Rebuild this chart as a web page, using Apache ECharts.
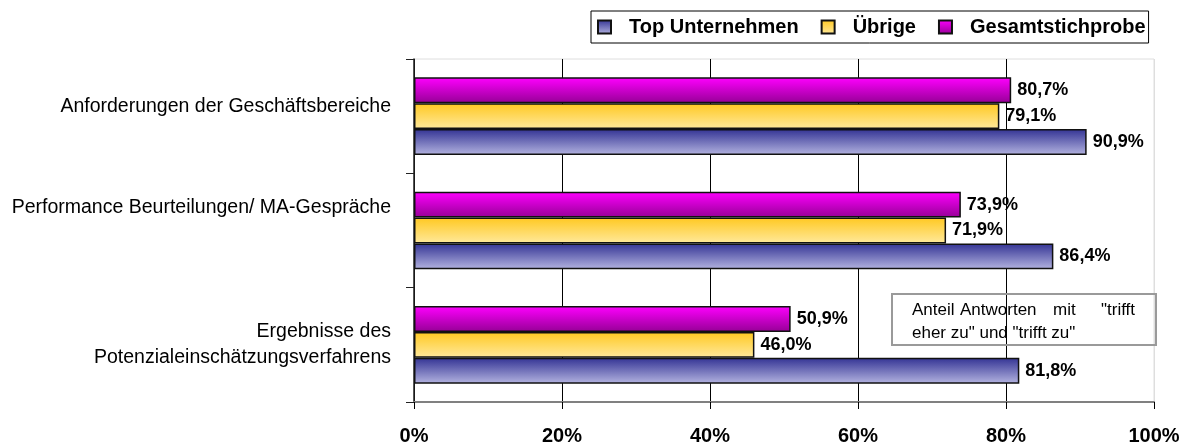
<!DOCTYPE html>
<html>
<head>
<meta charset="utf-8">
<script src="https://cdn.jsdelivr.net/npm/echarts@6/dist/echarts.min.js"></script>
<style>
html,body{margin:0;padding:0;background:#fff;}
#chart{width:1191px;height:447px;}
</style>
</head>
<body>
<div id="chart"></div>
<script>
// categories bottom -> top (ECharts category y axis starts at bottom)
var categories = ['Ergebnisse des\nPotenzialeinschätzungsverfahrens', 'Performance Beurteilungen/ MA-Gespräche', 'Anforderungen der Geschäftsbereiche'];
var seriesNames = ['Top Unternehmen', 'Übrige', 'Gesamtstichprobe'];
var topUnternehmen = [81.8, 86.4, 90.9];
var uebrige = [46.0, 71.9, 79.1];
var gesamt = [50.9, 73.9, 80.7];
var xTicks = [0, 20, 40, 60, 80, 100];
var noteLine1 = ['Anteil', 'Antworten', 'mit', '"trifft'];
var noteLine2 = 'eher zu" und "trifft zu"';

var FONT = '"Liberation Sans", Arial, sans-serif';

function grad(top, bottom) {
  return new echarts.graphic.LinearGradient(0, 0, 0, 1, [
    {offset: 0, color: top}, {offset: 1, color: bottom}
  ]);
}
var colors = [grad('#333394', '#b4b4e0'), grad('#ffc820', '#ffe99c'), grad('#ff00ff', '#960096')];
var dataSets = [topUnternehmen, uebrige, gesamt];

function fmt(v) { return v.toFixed(1).replace('.', ',') + '%'; }

// draw order: Gesamtstichprobe on top of each group, Top Unternehmen at bottom
var order = [2, 1, 0];
var series = order.map(function (i) {
  return {
    name: seriesNames[i],
    type: 'bar',
    data: dataSets[i],
    barGap: '0%',
    barCategoryGap: '32%',
    itemStyle: {color: colors[i], borderColor: '#111', borderWidth: 1.5},
    label: {
      show: true, position: 'right', distance: 6,
      formatter: function (p) { return fmt(p.value); },
      fontFamily: FONT, fontWeight: 'bold', fontSize: 18, color: '#000'
    }
  };
});

var chart = echarts.init(document.getElementById('chart'), null, {renderer: 'canvas'});

var graphics = [{
  type: 'rect', left: 891, top: 293, z: 50,
  shape: {width: 264, height: 51},
  style: {fill: 'rgba(0,0,0,0)', stroke: '#9a9a9a', lineWidth: 2}
}];
var wordX = [912, 960, 1053, 1101];
noteLine1.forEach(function (w, i) {
  graphics.push({type: 'text', left: wordX[i], top: 302, z: 51,
    style: {text: w, font: '17px ' + FONT, fill: '#000'}});
});
graphics.push({type: 'text', left: 912, top: 325, z: 51,
  style: {text: noteLine2, font: '17px ' + FONT, fill: '#000'}});

chart.setOption({
  animation: false,
  backgroundColor: '#fff',
  textStyle: {fontFamily: FONT},
  legend: {
    data: seriesNames,
    left: 591, top: 11,
    padding: [6, 3, 6, 6],
    borderColor: '#000', borderWidth: 1,
    icon: 'rect',
    itemWidth: 13, itemHeight: 13, itemGap: 22,
    textStyle: {fontFamily: FONT, fontWeight: 'bold', fontSize: 20, color: '#000', padding: [0, 0, 0, 13]}
  },
  grid: {
    left: 414, right: 37, top: 59, bottom: 45,
    show: true, borderColor: '#dedede', borderWidth: 1, backgroundColor: 'rgba(0,0,0,0)'
  },
  xAxis: {
    type: 'value', min: 0, max: 100, interval: 20,
    axisLine: {show: true, lineStyle: {color: '#808080', width: 2}},
    axisTick: {show: true, length: 7, lineStyle: {color: '#000'}},
    splitLine: {show: true, lineStyle: {color: ['#000', '#000', '#000', '#000', '#000', '#dedede'], width: 1}},
    axisLabel: {
      margin: 24,
      formatter: function (v) { return v + '%'; },
      fontFamily: FONT, fontWeight: 'bold', fontSize: 20, color: '#000'
    }
  },
  yAxis: {
    type: 'category', data: categories,
    axisLine: {show: true, lineStyle: {color: '#222', width: 1.5}},
    axisTick: {show: true, length: 8, lineStyle: {color: '#222'}},
    axisLabel: {
      margin: 23,
      formatter: function (v, idx) { return '{c' + idx + '|' + v + '}'; },
      rich: {
        c0: {fontFamily: FONT, fontSize: 19.5, color: '#000', lineHeight: 26, align: 'right'},
        c1: {fontFamily: FONT, fontSize: 19.5, color: '#000', lineHeight: 22, padding: [0, 0, 46, 0], align: 'right'},
        c2: {fontFamily: FONT, fontSize: 19.5, color: '#000', lineHeight: 22, padding: [0, 0, 20, 0], align: 'right'}
      }
    }
  },
  series: series,
  graphic: graphics
});
</script>
</body>
</html>
